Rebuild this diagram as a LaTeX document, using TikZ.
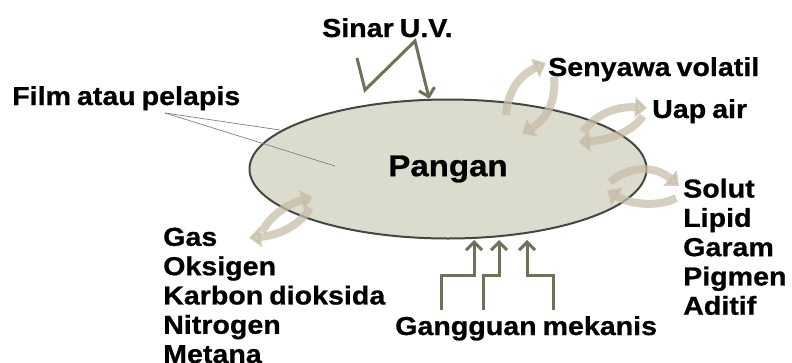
\documentclass[tikz,border=0pt]{standalone}
\usepackage{fontspec}
\setmainfont{Liberation Sans}
\newfontfamily\lblfont{Liberation Sans}[FakeStretch=1.1, WordSpace=0.75, FakeBold=0.8]
\usetikzlibrary{arrows.meta, positioning, shapes.geometric}
\definecolor{foodfill}{RGB}{220,220,206}
\definecolor{foodline}{RGB}{70,70,66}
\definecolor{mechline}{RGB}{112,113,92}
\definecolor{flowfill}{RGB}{198,188,166}

\begin{document}
\begin{tikzpicture}[
    x=1pt, y=-1pt,
    lbl/.style={font=\lblfont\bfseries\fontsize{26}{29.3}\selectfont,
                inner sep=0pt, align=left},
    food/.style={ellipse, draw=foodline, line width=2pt, fill=foodfill,
                 inner sep=0pt, minimum width=397pt, minimum height=139pt,
                 font=\lblfont\bfseries\fontsize{30}{34}\selectfont},
    mech/.style={draw=mechline, line width=3pt,
                 -{Straight Barb[length=8pt, width=16pt]}},
    flow/.style={draw=flowfill, line width=8pt, opacity=0.72,
                 -{Triangle[length=12pt, width=20pt]}},
    pointer/.style={draw=gray, line width=0.7pt},
]
    \useasboundingbox (0,0) rectangle (792,362);

    % the food and its coating
    \node[food] (pangan) at (448,169) {Pangan};

    % labels
    \node[lbl, anchor=base west] (uv) at (322,37) {Sinar U.V.};
    \node[lbl, anchor=base west] (film) at (12,105) {Film atau pelapis};
    \node[lbl, anchor=base west] (volatil) at (548,76) {Senyawa volatil};
    \node[lbl, anchor=base west] (uap) at (652,118) {Uap air};
    \node[lbl, anchor=north west] (solut) at (683,178.5)
        {Solut\\Lipid\\Garam\\Pigmen\\Aditif};
    \node[lbl, anchor=north west] (gas) at (163,227.5)
        {Gas\\Oksigen\\Karbon dioksida\\Nitrogen\\Metana};
    \node[lbl, anchor=base west] (mekanis) at (395,335) {Gangguan mekanis};

    % pointer lines of the film label
    \coordinate (filmfoot) at (165,113);
    \coordinate (filmedge) at (280,130);
    \coordinate (filmin) at (335,166);
    \draw[pointer] (filmfoot) -- (filmedge);
    \draw[pointer] (filmfoot) -- (filmin);

    % exchange through the coating
    \coordinate (vol1) at (506,115);  \coordinate (vol2) at (546,63);
    \coordinate (vol3) at (554,77);   \coordinate (vol4) at (522,134);
    \draw[flow] (vol1) .. controls (508,90) and (520,75) .. (vol2);
    \draw[flow] (vol3) .. controls (556,100) and (548,118) .. (vol4);

    \coordinate (uap1) at (583,132);  \coordinate (uap2) at (647,108);
    \coordinate (uap3) at (643,116);  \coordinate (uap4) at (578,142);
    \draw[flow] (uap1) .. controls (595,115) and (615,106) .. (uap2);
    \draw[flow] (uap3) .. controls (632,132) and (610,140) .. (uap4);

    \coordinate (sol1) at (610,182);  \coordinate (sol2) at (679,186);
    \coordinate (sol3) at (676,198);  \coordinate (sol4) at (607,190);
    \draw[flow] (sol1) .. controls (628,166) and (655,165) .. (sol2);
    \draw[flow] (sol3) .. controls (660,207) and (630,205) .. (sol4);

    \coordinate (gas1) at (262,232);  \coordinate (gas2) at (313,197);
    \coordinate (gas3) at (310,208);  \coordinate (gas4) at (249,238);
    \draw[flow] (gas1) .. controls (270,215) and (290,203) .. (gas2);
    \draw[flow] (gas3) .. controls (300,225) and (280,235) .. (gas4);

    % UV light
    \coordinate (uvfoot) at (357,58);
    \draw[mech] (uvfoot) -- ++(8,32) -- ++(50,-49) -- (pangan.105);

    % mechanical stress
    \foreach \i/\xa/\xb in {1/441/474, 2/483/499, 3/553/527} {
        \coordinate (foot\i) at (\xa,310);
        \coordinate (knee\i) at (\xb,275);
        \coordinate (tip\i) at (\xb,240);
        \draw[mech] (foot\i) |- (knee\i) -- (tip\i);
    }
\end{tikzpicture}
\end{document}
